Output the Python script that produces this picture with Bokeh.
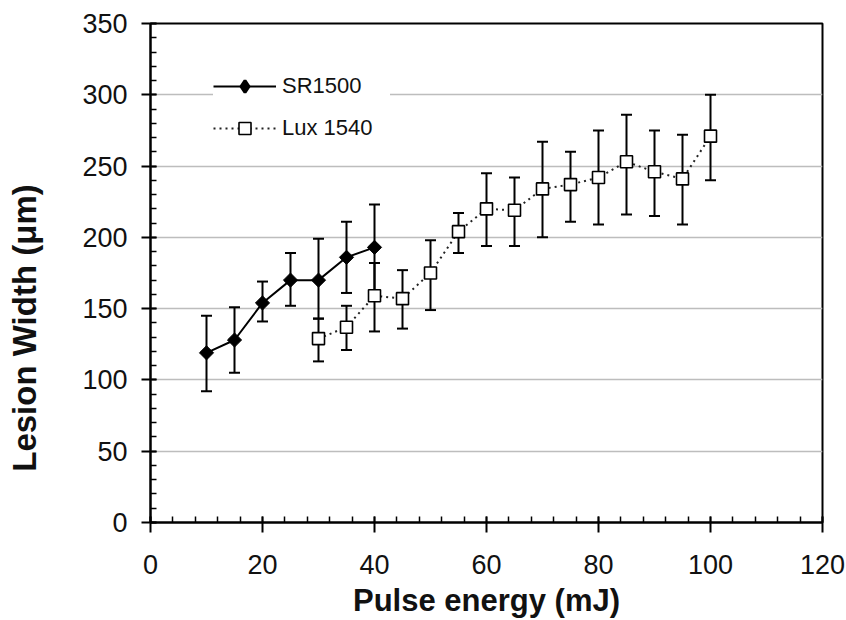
import numpy as np
from bokeh.plotting import figure
from bokeh.models import (Range1d, FixedTicker, Whisker, TeeHead, ColumnDataSource,
                          Legend, LegendItem)
from bokeh.embed import file_html
from bokeh.resources import INLINE

# ---- data ----
sr_x = [10, 15, 20, 25, 30, 35, 40]
sr_y = [119, 128, 154, 170, 170, 186, 193]
sr_lo = [92, 105, 141, 152, 143, 161, 163]
sr_hi = [145, 151, 169, 189, 199, 211, 223]

lux_x = [30, 35, 40, 45, 50, 55, 60, 65, 70, 75, 80, 85, 90, 95, 100]
lux_y = [129, 137, 159, 157, 175, 204, 220, 219, 234, 237, 242, 253, 246, 241, 271]
lux_lo = [113, 121, 134, 136, 149, 189, 194, 194, 200, 211, 209, 216, 215, 209, 240]
lux_hi = [143, 152, 182, 177, 198, 217, 245, 242, 267, 260, 275, 286, 275, 272, 300]

x_ticks = [0, 20, 40, 60, 80, 100, 120]
x_minor = list(range(0, 121, 4))
y_ticks = [0, 50, 100, 150, 200, 250, 300, 350]
y_minor = list(range(0, 351, 10))
grid_ticks = [50, 100, 150, 200, 250, 300]

FONT = "Liberation Sans"

p = figure(width=846, height=620, x_range=Range1d(0, 120), y_range=Range1d(0, 350),
           output_backend="svg", toolbar_location=None,
           min_border_left=150, min_border_right=24, min_border_top=23, min_border_bottom=96)

p.outline_line_color = "black"
p.outline_line_width = 2
p.xgrid.visible = False
p.ygrid.ticker = FixedTicker(ticks=grid_ticks)
p.ygrid.grid_line_color = "#bdbdbd"
p.ygrid.grid_line_width = 1.5

# axes
p.xaxis.ticker = FixedTicker(ticks=x_ticks, minor_ticks=x_minor)
p.yaxis.ticker = FixedTicker(ticks=y_ticks, minor_ticks=y_minor)
for ax in (p.xaxis[0], p.yaxis[0]):
    ax.axis_line_color = "black"
    ax.axis_line_width = 2
    ax.major_tick_line_color = "black"
    ax.major_tick_line_width = 2
    ax.minor_tick_line_color = "black"
    ax.minor_tick_line_width = 1.5
    ax.major_label_text_font = FONT
    ax.major_label_text_font_size = "27px"
    ax.major_label_text_color = "#111111"
    ax.minor_tick_in = 6
    ax.minor_tick_out = 0
    ax.major_tick_in = 6

p.xaxis.major_tick_out = 10
p.yaxis.major_tick_out = 9
p.xaxis.major_label_standoff = 22
p.yaxis.major_label_standoff = 14
p.xaxis.major_label_text_line_height = 0.9

p.xaxis.axis_label = "Pulse energy (mJ)"
p.xaxis.axis_label_text_font = FONT
p.xaxis.axis_label_text_font_size = "31px"
p.xaxis.axis_label_text_font_style = "bold"
p.xaxis.axis_label_text_color = "#111111"
p.xaxis.axis_label_text_line_height = 0.9
p.xaxis.axis_label_standoff = 6

# y-axis title; the original sits below the centre of the axis, so the
# label is padded with non-breaking spaces at its (upper) end
p.yaxis.axis_label = "Lesion Width (μm)" + "\u00a0" * 12
p.yaxis.axis_label_text_font = FONT
p.yaxis.axis_label_text_font_size = "33px"
p.yaxis.axis_label_text_font_style = "bold"
p.yaxis.axis_label_text_color = "#111111"
p.yaxis.axis_label_standoff = 36

# error bars
sr_src = ColumnDataSource(dict(x=sr_x, y=sr_y, lo=sr_lo, hi=sr_hi))
lux_src = ColumnDataSource(dict(x=lux_x, y=lux_y, lo=lux_lo, hi=lux_hi))
for src in (sr_src, lux_src):
    w = Whisker(source=src, base="x", lower="lo", upper="hi",
                line_color="black", line_width=2,
                lower_head=TeeHead(size=11, line_width=2, line_color="black"),
                upper_head=TeeHead(size=11, line_width=2, line_color="black"))
    p.add_layout(w)

# series
lux_line = p.line("x", "y", source=lux_src, line_color="#222222", line_width=2, line_dash="2 4")
lux_pts = p.scatter("x", "y", source=lux_src, marker="square", size=12,
                    fill_color="white", line_color="black", line_width=1.6)
sr_line = p.line("x", "y", source=sr_src, line_color="black", line_width=2)
# diamond-shaped key for the legend (legend glyphs are never rotated); it sits
# underneath the rotated-square markers so it is hidden in the plot itself
sr_key = p.scatter("x", "y", source=sr_src, marker="diamond", size=7,
                   fill_color="black", line_color="black", line_width=3)
sr_pts = p.scatter("x", "y", source=sr_src, marker="square", angle=np.pi / 4, size=10,
                   fill_color="black", line_color="black", line_width=1)

legend = Legend(items=[LegendItem(label="SR1500", renderers=[sr_line, sr_key]),
                       LegendItem(label="Lux 1540", renderers=[lux_line, lux_pts])],
                location=(63, 379), padding=20, margin=0, spacing=12,
                glyph_width=63, glyph_height=30, label_height=30, label_width=108,
                label_standoff=6,
                label_text_font=FONT, label_text_font_size="22px", label_text_color="#111111",
                border_line_color=None, background_fill_color="white", background_fill_alpha=1)
p.add_layout(legend)

open("out.html", "w").write(file_html(p, INLINE))
